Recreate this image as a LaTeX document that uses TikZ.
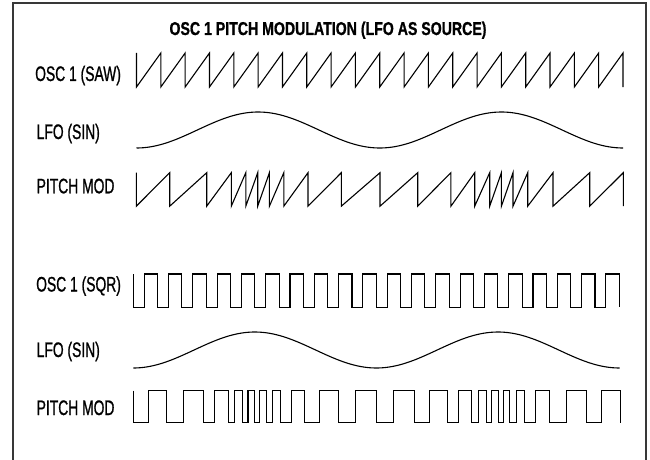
\documentclass[tikz,border=0pt]{standalone}
\usepackage{fontspec}
\newfontfamily\labelfont{Liberation Sans}[FakeStretch=0.66, FakeBold=0.9]
\newfontfamily\titlefont{Liberation Sans}[FakeStretch=0.76, FakeBold=0.8]

% drop positions of the modulated saw (upper group, in px)
\newcommand\pitchmodx{169.7,206.7,231.3,245.8,257.7,269.4,283.8,308,341.3,380,417.7,450.9,474.7,489.7,501.4,513,527.7,553,589.7,623.3}

\begin{document}
\begin{tikzpicture}[
  x=1pt,
  y=-1pt,
  wave/.style={draw=black, line width=1.1pt, line join=miter},
  frame/.style={draw=black!78, line width=1.2pt},
  lbl/.style={font=\labelfont\fontsize{21}{21}\selectfont, anchor=base west, inner sep=0pt},
  title/.style={font=\titlefont\bfseries\fontsize{18.6}{19}\selectfont, anchor=base, inner sep=0pt}
]
\useasboundingbox (0,0) rectangle (650,460);

% frame, open at the bottom
\draw[frame] (13,460) |- (646,3) -- (646,460);

\node[title] (head) at (328,35) {OSC 1 PITCH MODULATION (LFO AS SOURCE)};

% ---------------------------------------------------------------------------
% saw oscillator
% ---------------------------------------------------------------------------
\node[lbl] (oscsaw) at (35,81) {OSC 1 (SAW)};
\node[lbl] (lfoa) at (36.5,139) {LFO (SIN)};
\node[lbl] (modsaw) at (36.5,193.3) {PITCH MOD};

\draw[wave] (136.5,53)
  \foreach \k in {1,...,20} { -- ++(0,34) -- ({136.5+\k*24.325},53) } -- ++(0,34);

% two LFO periods over the row
\draw[wave] plot[domain=136.5:623, samples=140, smooth]
  (\x, {130+18*cos(1.47996*(\x-136.5))});

\draw[wave] (136.3,172.7)
  \foreach \x in \pitchmodx { -- ++(0,33.5) -- (\x,172.7) } -- ++(0,33.5);

% ---------------------------------------------------------------------------
% square oscillator
% ---------------------------------------------------------------------------
\node[lbl] (oscsqr) at (36,291.5) {OSC 1 (SQR)};
\node[lbl] (lfob) at (36.5,357) {LFO (SIN)};
\node[lbl] (modsqr) at (36.5,415) {PITCH MOD};

\draw[wave] (133.3,274)
  \foreach \k in {1,...,20} {
    |- ({133.3+(\k-0.55)*24.3},307.3) |- ({133.3+\k*24.3},274)
  } -- ++(0,33.3);

\draw[wave] plot[domain=133.3:619.5, samples=140, smooth]
  (\x, {350+18*cos(1.48087*(\x-133.3))});

\begin{scope}[xshift=-3.2pt]
  \draw[wave] (136.3,390.7)
    \foreach \x [remember=\x as \lastx (initially 136.3)] in \pitchmodx {
      |- ({\lastx+0.45*(\x-\lastx)},422.7) |- (\x,390.7)
    } -- ++(0,32);
\end{scope}

\end{tikzpicture}
\end{document}
